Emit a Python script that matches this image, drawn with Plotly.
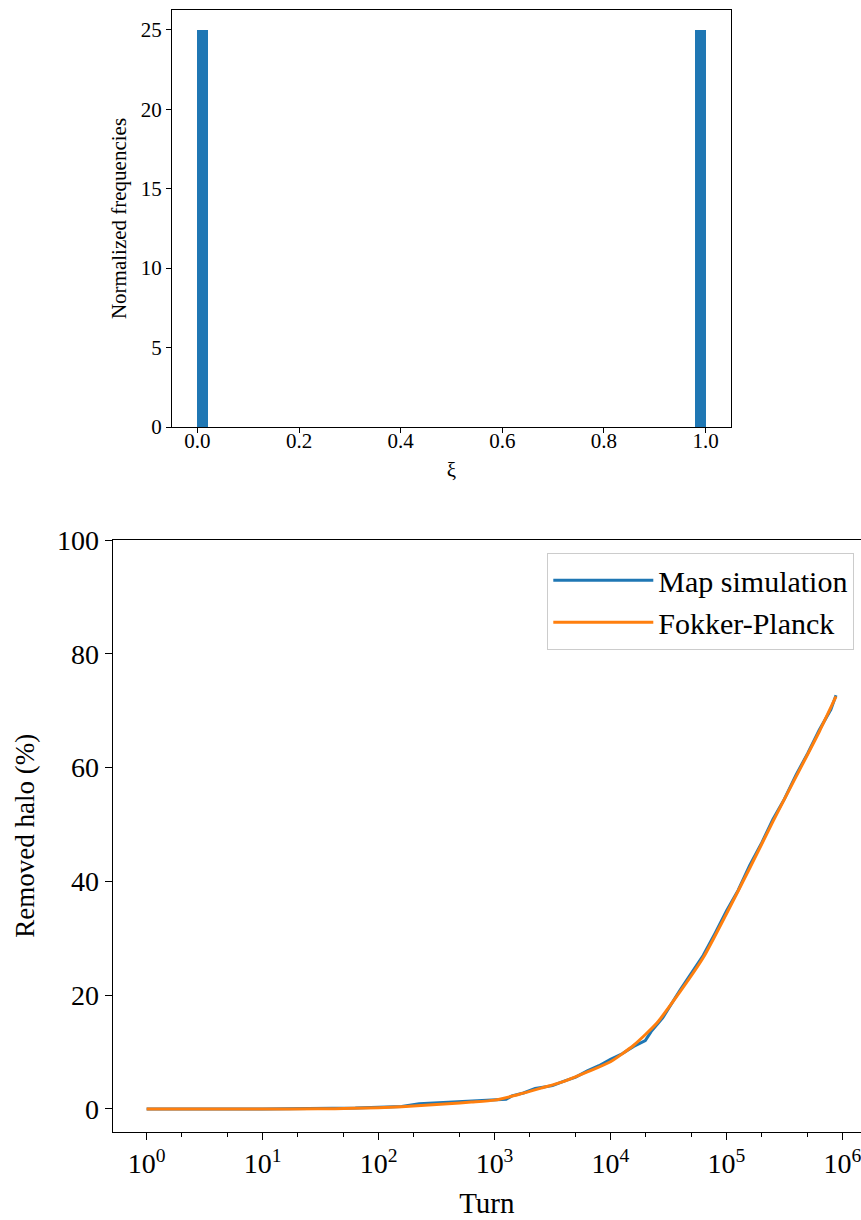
import plotly.graph_objects as go

# ---- top panel: histogram of xi (normalized) ----
xi_bin_centers = [0.01, 0.99]
xi_density = [25.0, 25.0]
xi_bin_width = 0.02
top_x_ticks = [0.0, 0.2, 0.4, 0.6, 0.8, 1.0]
top_y_ticks = [0, 5, 10, 15, 20, 25]

# ---- bottom panel: removed halo vs turn ----
map_turn = [1, 10, 63, 100, 158, 224, 282, 398, 562, 794, 1000, 1259, 1413, 1778,
            2239, 3162, 3981, 5012, 6310, 7943, 10000, 12589, 15849, 19953, 22387,
            28184, 39811, 50119, 63096, 79433, 100000, 125893, 158489, 199526,
            251189, 316228, 398107, 501187, 630957, 794328, 880000]
map_removed = [0.0, 0.0, 0.15, 0.3, 0.45, 0.9, 1.0, 1.2, 1.35, 1.45, 1.5, 1.7, 2.3,
               2.8, 3.6, 4.1, 4.9, 5.6, 6.7, 7.6, 8.7, 9.7, 11.0, 12.0, 13.6, 16.0,
               20.9, 24.0, 27.0, 30.8, 34.8, 38.4, 42.8, 46.6, 50.9, 54.5, 58.7,
               62.5, 66.6, 70.2, 72.7]

fp_turn = [1, 3, 10, 30, 60, 100, 158, 251, 398, 631, 1000, 1585, 2512, 3981, 6310,
           10000, 15849, 25119, 39811, 63096, 100000, 158489, 251189, 398107,
           630957, 880000]
fp_removed = [0.0, 0.0, 0.0, 0.02, 0.1, 0.23, 0.4, 0.65, 0.9, 1.2, 1.55, 2.5, 3.65,
              4.85, 6.5, 8.3, 11.2, 15.1, 20.6, 26.6, 34.3, 42.3, 50.5, 58.4, 66.3,
              72.5]

turn_tick_vals = [1, 10, 100, 1000, 10000, 100000, 1000000]
turn_tick_text = ["10<sup>0</sup>", "10<sup>1</sup>", "10<sup>2</sup>", "10<sup>3</sup>",
                  "10<sup>4</sup>", "10<sup>5</sup>", "10<sup>6</sup>"]
halo_ticks = [0, 20, 40, 60, 80, 100]

BLUE = "#1f77b4"
ORANGE = "#ff7f0e"
FONT = "Liberation Serif"
W, H = 861, 1220

fig = go.Figure()

fig.add_trace(go.Bar(
    x=xi_bin_centers, y=xi_density, width=[xi_bin_width] * len(xi_bin_centers),
    marker=dict(color=BLUE, line=dict(width=0)), xaxis="x", yaxis="y",
    showlegend=False,
))

fig.add_trace(go.Scatter(
    x=map_turn, y=map_removed, mode="lines", name="Map simulation",
    line=dict(color=BLUE, width=3), xaxis="x2", yaxis="y2",
))
fig.add_trace(go.Scatter(
    x=fp_turn, y=fp_removed, mode="lines", name="Fokker-Planck",
    line=dict(color=ORANGE, width=3, shape="spline", smoothing=0.6),
    xaxis="x2", yaxis="y2",
))

axis_common = dict(showgrid=False, zeroline=False, showline=True, linecolor="black",
                   linewidth=1.3, ticks="outside", tickcolor="black", tickwidth=1.3,
                   color="black", automargin=False, ticklabeloverflow="allow")

fig.update_layout(
    width=W, height=H,
    margin=dict(l=0, r=0, t=0, b=0, autoexpand=False),
    paper_bgcolor="white", plot_bgcolor="white",
    font=dict(family=FONT, color="black"),
    bargap=0,
    xaxis=dict(
        **axis_common, domain=[172 / W, 731 / W], anchor="y", mirror=True,
        range=[-0.05, 1.05], tickvals=top_x_ticks, tickformat=".1f", ticklen=5,
        tickfont=dict(size=21), ticklabelstandoff=-10,
        title=dict(text="ξ", font=dict(size=21), standoff=9),
    ),
    yaxis=dict(
        **axis_common, domain=[1 - 427 / H, 1 - 10 / H], anchor="x", mirror=True,
        range=[0, 26.25], tickvals=top_y_ticks, ticklen=5,
        tickfont=dict(size=21),
        title=dict(text="Normalized frequencies", font=dict(size=21), standoff=8),
    ),
    xaxis2=dict(
        **axis_common, domain=[112.7 / W, 1.0], anchor="y2", mirror=True,
        type="log", range=[-0.2925, 6.16], tickvals=turn_tick_vals,
        ticktext=turn_tick_text, ticklen=7, tickfont=dict(size=28),
        minor=dict(ticks="outside", ticklen=4, tickwidth=1, tickcolor="black",
                   showgrid=False),
        title=dict(text="Turn", font=dict(size=29), standoff=14),
    ),
    yaxis2=dict(
        **axis_common, domain=[1 - 1131.7 / H, 1 - 540 / H], anchor="x2",
        range=[-4.0, 100], tickvals=halo_ticks, ticklen=7, tickfont=dict(size=28),
        title=dict(text="Removed halo (%)", font=dict(size=27), standoff=14),
    ),
    legend=dict(
        x=854 / W, y=1 - 553 / H, xanchor="right", yanchor="top",
        bgcolor="rgba(255,255,255,0.8)", bordercolor="#cccccc", borderwidth=1.3,
        font=dict(size=30, family=FONT), itemwidth=100,
    ),
)

fig.write_html("out.html")
